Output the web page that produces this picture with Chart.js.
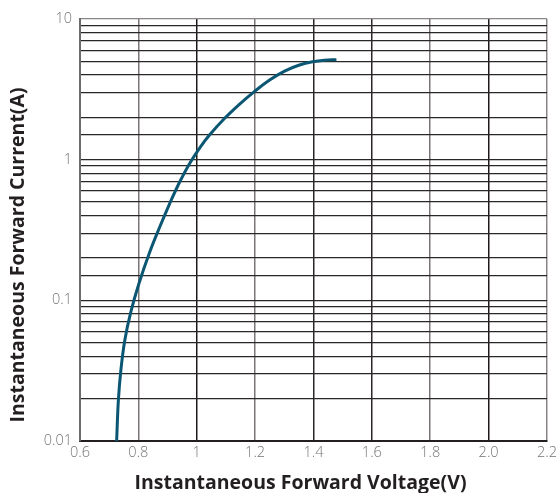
<!DOCTYPE html>
<html>
<head>
<meta charset="utf-8">
<script src="https://cdn.jsdelivr.net/npm/chart.js@4/dist/chart.umd.min.js"></script>
<style>
  html, body { margin: 0; padding: 0; background: #fff; }
  #wrap { width: 560px; height: 493px; position: relative; }
</style>
</head>
<body>
<div id="wrap"><canvas id="c" width="560" height="493"></canvas></div>
<script>
// Data
const voltage = [0.7255, 0.7316, 0.7402, 0.7538, 0.7744, 0.8017, 0.8393, 0.8735, 0.9077, 0.9419, 0.9761, 1.0103, 1.0444, 1.0957, 1.147, 1.1983, 1.2496, 1.3009, 1.3521, 1.3966, 1.4376, 1.4786];
const current = [0.01, 0.0197, 0.0321, 0.0525, 0.0830, 0.1312, 0.2215, 0.3334, 0.4898, 0.6966, 0.9428, 1.215, 1.503, 1.969, 2.486, 3.062, 3.683, 4.266, 4.707, 4.963, 5.095, 5.136];
const xTickLabels = ['0.6', '0.8', '1', '1.2', '1.4', '1.6', '1.8', '2.0', '2.2'];
const yTickLabels = ['0.01', '0.1', '1', '10'];
const xTitle = 'Instantaneous Forward Voltage(V)';
const yTitle = 'Instantaneous Forward Current(A)';

const points = voltage.map((v, i) => ({ x: v, y: current[i] }));
const vGridColors = ['#555', '#7a7676', '#1e1a1a', '#7a7676', '#2a2626', '#2a2626', '#7a7676', '#1e1a1a', '#8a8686'];

const titlePlugin = {
  id: 'axisTitles',
  afterDraw(chart) {
    const { ctx, chartArea } = chart;
    ctx.save();
    ctx.fillStyle = '#231f20';
    ctx.font = 'bold 19.5px "Open Sans", sans-serif';
    ctx.textAlign = 'center';
    ctx.textBaseline = 'middle';
    ctx.fillText(xTitle, (chartArea.left + chartArea.right) / 2 - 13, chartArea.bottom + 42);
    ctx.translate(18, (chartArea.top + chartArea.bottom) / 2 + 25);
    ctx.rotate(-Math.PI / 2);
    ctx.fillText(yTitle, 0, 0);
    ctx.restore();
  }
};

new Chart(document.getElementById('c'), {
  type: 'line',
  data: {
    datasets: [{
      data: points,
      borderColor: '#0b5773',
      borderWidth: 3,
      pointRadius: 0,
      fill: false,
      tension: 0.4,
      borderCapStyle: 'butt'
    }]
  },
  options: {
    responsive: false,
    animation: false,
    layout: { padding: { top: 19, right: 12, left: 0, bottom: 0 } },
    plugins: { legend: { display: false }, tooltip: { enabled: false } },
    scales: {
      x: {
        type: 'linear',
        min: 0.6, max: 2.2,
        afterFit(s) { s.height = 52; },
        ticks: {
          stepSize: 0.2,
          autoSkip: false,
          maxRotation: 0,
          padding: 3,
          color: '#777374',
          font: { family: '"Open Sans", sans-serif', size: 14.5, weight: 300 },
          callback: (v, i) => xTickLabels[i] ?? ''
        },
        grid: {
          drawTicks: false,
          lineWidth: 1.5,
          color: (c) => vGridColors[c.index] || '#555'
        },
        border: { display: true, color: '#231f20', width: 2 }
      },
      y: {
        type: 'logarithmic',
        min: 0.01, max: 10,
        afterFit(s) { s.width = 80; },
        ticks: {
          autoSkip: false,
          padding: 8,
          color: '#777374',
          font: { family: '"Open Sans", sans-serif', size: 14.5, weight: 300 },
          callback: (v) => {
            const s = yTickLabels.find(t => Math.abs(parseFloat(t) - v) < 1e-9);
            return s || '';
          }
        },
        grid: {
          drawTicks: false,
          lineWidth: 1.3,
          color: (c) => {
            const v = c.tick ? c.tick.value : 0;
            if (Math.abs(v - 10) < 1e-9) return '#8a8686';
            return '#2b2727';
          }
        },
        border: { display: true, color: '#6d6a6a', width: 2 }
      }
    }
  },
  plugins: [titlePlugin]
});
</script>
</body>
</html>
